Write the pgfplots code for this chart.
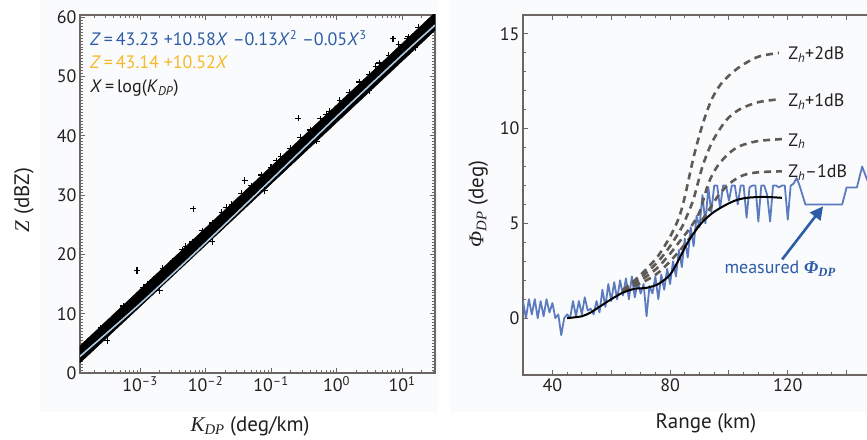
\documentclass[border=0pt]{standalone}
\usepackage{fontspec}
\setmainfont{PT Sans}
\newfontfamily\serifgr{Liberation Serif}
\usepackage{pgfplots}
\pgfplotsset{compat=1.18}
\usetikzlibrary{arrows.meta}
\definecolor{framec}{RGB}{110,102,98}
\definecolor{eqblue}{RGB}{45,92,168}
\definecolor{eqyellow}{RGB}{247,185,40}
\definecolor{txt}{RGB}{35,31,32}
\definecolor{fitblue}{RGB}{175,203,226}
\definecolor{measblue}{RGB}{92,122,192}
\definecolor{dashc}{RGB}{95,90,85}
\definecolor{bgc}{RGB}{250,251,252}
\pgfplotsset{myax/.style={scale only axis, axis line style={framec,line width=1.1pt},
  tick style={framec,line width=1pt}, major tick length=5pt, minor tick length=3pt,
  tick align=inside, ticklabel style={font=\fontsize{18}{20}\selectfont, text=txt},
  /pgf/number format/assume math mode=true,
  label style={font=\fontsize{21}{24}\selectfont, text=txt}}}
\begin{document}
\begin{tikzpicture}
\useasboundingbox (0,0) rectangle (867pt,439pt);
\clip (0,0) rectangle (867pt,439pt);
\fill[bgc] (40pt,27pt) rectangle (438pt,439pt);
\fill[bgc] (450pt,27pt) rectangle (867pt,439pt);
% ---------------- left panel
\begin{axis}[myax, at={(80pt,66pt)}, anchor=south west, width=355pt, height=358pt,
  xmode=log, xmin=1.213e-4, xmax=31.9, ymin=0, ymax=60.4,
  xtick={1e-3,1e-2,1e-1,1,10},
  xticklabels={10\textsuperscript{–3},10\textsuperscript{–2},10\textsuperscript{–1},10\textsuperscript{0},10\textsuperscript{1}},
  minor xtick={2e-4,3e-4,4e-4,5e-4,6e-4,7e-4,8e-4,9e-4,2e-3,3e-3,4e-3,5e-3,6e-3,7e-3,8e-3,9e-3,2e-2,3e-2,4e-2,5e-2,6e-2,7e-2,8e-2,9e-2,0.2,0.3,0.4,0.5,0.6,0.7,0.8,0.9,2,3,4,5,6,7,8,9,20,30},
  ytick={0,10,...,60}, minor y tick num=19,
  xlabel={{\serifgr\itshape K}\textsubscript{\serifgr\itshape DP} (deg/km)},
  ylabel={{\serifgr\itshape Z} (dBZ)},
  xlabel style={at={(axis description cs:0.479,-0.148)}, anchor=center},
  ylabel style={at={(axis description cs:-0.158,0.483)}, anchor=center},
]
\addplot[eqyellow, line width=1pt] coordinates {(1.213e-4,1.94) (31.9,58.96)};
\addplot[fill=black, draw=black] coordinates {(1.213e-4,1.7) (1.213e-4,4.6) (31.9,60.8) (31.9,57.8)} -- cycle;
\addplot[only marks, mark=+, mark size=3.2pt, line width=1.1pt, black] coordinates {
(1.585e-4,5.3) (2.512e-4,7.6) (3.981e-4,9.4) (5.623e-4,11.3) (7.943e-4,12.6)
(1.122e-3,14.5) (1.585e-3,15.8) (2.239e-3,17.6) (3.162e-3,18.9) (4.467e-3,20.8)
(6.310e-3,22.1) (8.913e-3,24.0) (1.259e-2,25.3) (1.778e-2,27.1) (2.512e-2,28.4)
(3.548e-2,30.3) (5.012e-2,31.6) (7.079e-2,33.4) (0.1,34.7) (0.1413,36.6)
(0.1995,37.9) (0.2818,39.7) (0.3981,41.0) (0.5623,42.9) (0.7943,44.1)
(1.122,46.0) (1.585,47.3) (2.239,49.1) (3.162,50.4) (4.467,52.3)
(6.310,53.6) (8.913,55.4) (12.59,56.7) (17.78,58.3) (24,58.9)
(2.0e-4,6.3) (1.3e-3,15.0) (5.0e-3,21.4) (2.1e-2,27.9) (0.12,35.8) (0.7,43.6) (4.0,51.7) (20,58.2)
(3.162e-4,5.5) (1.995e-3,13.9) (1.259e-2,22.2) (7.943e-2,30.8) (0.5012,39.1) (3.162,47.6) (15.85,54.9)
(9e-4,17.3) (6.5e-3,27.7) (0.04,32.5) (0.26,43.0) (7.3,56.4) (12,56.4)};
\addplot[fitblue, line width=1.6pt, smooth] coordinates {(1.213e-4,2.81) (1e-3,11.67) (1e-2,21.95) (0.1,32.57) (1,43.23) (10,53.63) (31.9,58.68)};
\node[anchor=west, eqblue, font=\fontsize{18}{20}\selectfont, inner sep=0pt] at (rel axis cs:0.028,0.936)
  {\textit{Z}\,=\,43.23 +10.58\textit{X} –0.13\textit{X}\textsuperscript{2} –0.05\textit{X}\textsuperscript{3}};
\node[anchor=west, eqyellow, font=\fontsize{18}{20}\selectfont, inner sep=0pt] at (rel axis cs:0.028,0.869)
  {\textit{Z}\,=\,43.14 +10.52\textit{X}};
\node[anchor=west, txt, font=\fontsize{18}{20}\selectfont, inner sep=0pt] at (rel axis cs:0.028,0.796)
  {\textit{X}\,=\,log(\textit{K}\textsubscript{\textit{DP}})};
\end{axis}
% ---------------- right panel
\begin{axis}[myax, at={(523pt,64pt)}, anchor=south west, width=353pt, height=360pt,
  xmin=30, xmax=150, ymin=-3, ymax=16,
  xtick={40,60,...,140}, xticklabels={40,,80,,120,}, minor x tick num=3,
  ytick={0,5,10,15}, minor y tick num=4,
  xlabel={Range (km)},
  ylabel={{\serifgr\itshape Φ}\textsubscript{\serifgr\itshape DP} (deg)},
  xlabel style={at={(axis description cs:0.518,-0.133)}, anchor=center},
  ylabel style={at={(axis description cs:-0.127,0.475)}, anchor=center},
]
\addplot[measblue, line width=1.8pt, line join=round] coordinates {
(30,0.9) (31,0.0) (32,1.0) (33,0.2) (34,1.0) (35,0.0) (36,0.9) (37,0.1) (38,1.0) (39,0.3)
(40,0.8) (41,0.0) (42,0.2) (43,-0.9) (44,0.0) (45,0.2) (46,0.0) (47,0.9) (48,0.1) (49,0.9)
(50,0.2) (51,1.1) (52,0.4) (53,0.5) (54,0.2) (55,0.9) (56,0.3) (57,1.5) (58,0.6) (59,1.8)
(60,0.9) (61,1.9) (62,1.0) (63,2.0) (64,1.2) (65,2.1) (66,1.0) (67,2.2) (68,1.1) (69,1.9)
(70,1.3) (71,1.8) (72,0.1) (73,1.7) (74,1.3) (75,2.2) (76,1.0) (77,2.3) (78,1.5) (79,2.6)
(80,1.8) (81,3.0) (82,2.2) (83,3.6) (84,2.7) (85,4.2) (86,3.2) (87,4.8) (88,3.8) (89,5.4)
(90,4.8) (91,6.5) (92,5.0) (93,6.9) (94,5.6) (95,7.0) (96,7.0) (97,5.8) (98,7.0) (99,7.0)
(100,6.2) (101,7.0) (102,7.0) (103,6.0) (104,7.0) (105,7.0) (106,5.3) (107,6.9) (108,7.0) (109,7.0)
(110,5.1) (111,7.0) (112,7.0) (113,6.5) (114,5.1) (115,7.0) (116,7.0) (117,6.9) (118,7.0) (119,7.0) (120,5.2)
(121,7.0) (122,7.1) (123,7.4) (124,7.0) (126,6.0) (138.5,6.0) (140,6.9) (143.5,6.9)
(145.3,8.0) (147,7.3) (148,7.0) (150,7.0)};
\addplot[dashc, line width=2.6pt, dash pattern=on 7pt off 5pt, smooth] coordinates {
(64,1.5) (68,2.0) (72,2.6) (76,3.3) (80,4.3) (83,5.3) (85,6.4) (88,8.5) (91,10.2) (94,11.5) (97,12.3) (100,12.8) (104,13.3) (110,13.8) (117,14.0)};
\addplot[dashc, line width=2.6pt, dash pattern=on 7pt off 5pt, smooth] coordinates {
(64,1.45) (68,1.9) (72,2.4) (76,3.0) (80,3.8) (84,4.8) (86,5.5) (88,6.3) (91,8.0) (94,9.2) (97,10.0) (100,10.6) (104,11.05) (110,11.4) (117,11.55)};
\addplot[dashc, line width=2.6pt, dash pattern=on 7pt off 5pt, smooth] coordinates {
(64,1.4) (68,1.8) (72,2.2) (76,2.7) (80,3.4) (84,4.2) (87,4.8) (90,5.6) (93,7.1) (96,8.0) (100,8.7) (104,9.1) (110,9.35) (118,9.45)};
\addplot[dashc, line width=2.6pt, dash pattern=on 7pt off 5pt, smooth] coordinates {
(64,1.4) (68,1.7) (72,2.0) (76,2.4) (80,3.0) (84,3.7) (88,4.5) (91,5.2) (94,5.9) (97,6.6) (101,7.2) (105,7.55) (110,7.7) (118,7.75)};
\addplot[black, line width=2pt, smooth] coordinates {
(45,0.0) (50,0.1) (53,0.3) (56,0.6) (60,1.0) (64,1.35) (68,1.55) (72,1.6) (76,1.8) (80,2.3) (83,3.1) (86,4.0) (90,4.9) (94,5.5) (98,5.9) (102,6.2) (106,6.35) (112,6.4) (118,6.35)};
\draw[eqblue, line width=2.6pt, -{Triangle[length=13pt,width=13pt]}] (axis cs:118.1,3.1) -- (axis cs:132,5.9);
\node[eqblue, font=\fontsize{18}{20}\selectfont] at (axis cs:117.4,2.6)
  {measured {\serifgr\itshape\bfseries Φ}\textsubscript{\serifgr\itshape\bfseries DP}};
\begin{scope}[every node/.style={anchor=base west, inner sep=0pt, text=txt, font=\fontsize{18}{20}\selectfont}]
\node at (axis cs:120.1,13.67) {Z\textsubscript{\textit{h}}+2dB};
\node at (axis cs:120.1,11.19) {Z\textsubscript{\textit{h}}+1dB};
\node at (axis cs:120.1,9.08) {Z\textsubscript{\textit{h}}};
\node at (axis cs:120.1,7.44) {Z\textsubscript{\textit{h}}–1dB};
\end{scope}
\end{axis}
\end{tikzpicture}
\end{document}
